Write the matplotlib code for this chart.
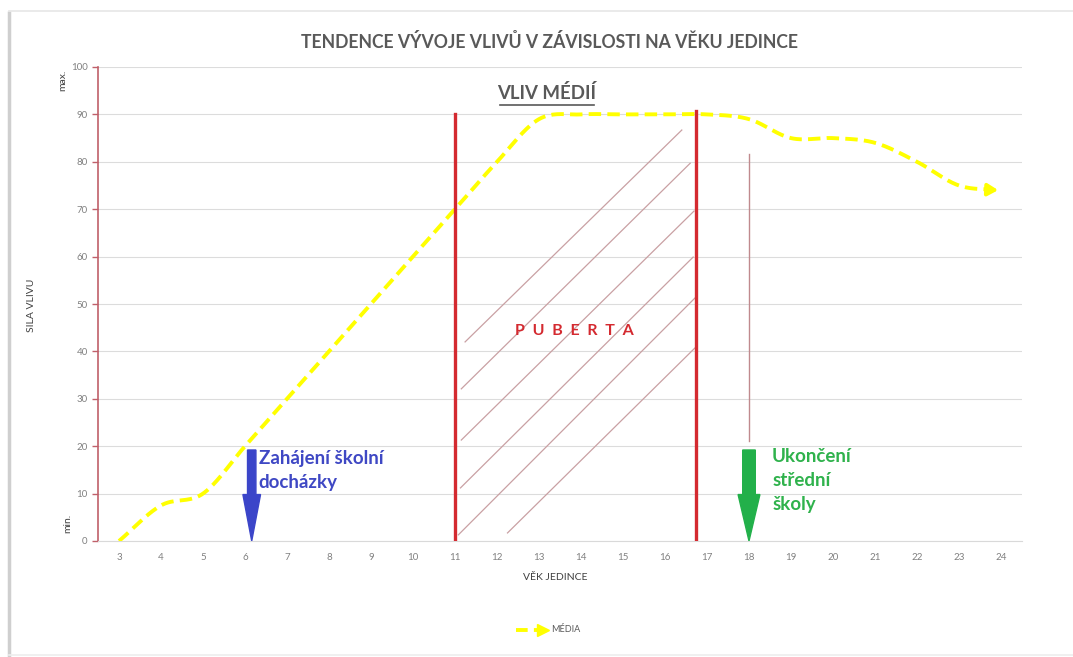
import numpy as np
import matplotlib
matplotlib.use("Agg")
import matplotlib.pyplot as plt
from matplotlib.lines import Line2D
from matplotlib.patches import FancyArrow

# ---------------- data ----------------
ages = [3, 4, 5, 6, 7, 8, 9, 10, 11, 12, 13, 14, 15, 16, 17, 18, 19, 20, 21, 22, 23, 24]
media = [0, 7.5, 10, 20, 30, 40, 50, 60, 70, 80, 89, 90, 90, 90, 90, 89, 85, 85, 84, 80, 75, 74]
series_name = "MÉDIA"
yticks = [0, 10, 20, 30, 40, 50, 60, 70, 80, 90, 100]

title = "TENDENCE VÝVOJE VLIVŮ V ZÁVISLOSTI NA VĚKU JEDINCE"
xlabel = "VĚK JEDINCE"
ylabel = "SILA VLIVU"

puberty_start = 11
puberty_end = 16.74
school_end = 18.0
school_start = 6.16

plt.rcParams['font.family'] = ['Lato', 'DejaVu Sans']

fig = plt.figure(figsize=(10.73, 6.57), dpi=100)
ax = fig.add_axes([98/1073, 1-541/657, (1022-98)/1073, (541-67)/657])

# frame/shadow of the chart container
fig.add_artist(Line2D([9/1073, 9/1073], [0, 1-11/657], transform=fig.transFigure,
                      color='#cfcfcf', lw=2.5, solid_capstyle='butt'))
fig.add_artist(Line2D([9/1073, 1], [1-11/657, 1-11/657], transform=fig.transFigure,
                      color='#e6e6e6', lw=1.2))
fig.add_artist(Line2D([9/1073, 1], [2/657, 2/657], transform=fig.transFigure,
                      color='#eeeeee', lw=1.2))


# Catmull-Rom smoothing (like Excel smoothed line)
def smooth(xs, ys, n=30):
    xs = np.asarray(xs, float); ys = np.asarray(ys, float)
    px = np.concatenate([[2*xs[0]-xs[1]], xs, [2*xs[-1]-xs[-2]]])
    py = np.concatenate([[2*ys[0]-ys[1]], ys, [2*ys[-1]-ys[-2]]])
    ox, oy = [], []
    for i in range(1, len(px)-2):
        t = np.linspace(0, 1, n, endpoint=False)
        for P, out in ((px, ox), (py, oy)):
            p0, p1, p2, p3 = P[i-1], P[i], P[i+1], P[i+2]
            out.extend(0.5*((2*p1) + (-p0+p2)*t + (2*p0-5*p1+4*p2-p3)*t**2 + (-p0+3*p1-3*p2+p3)*t**3))
    ox.append(xs[-1]); oy.append(ys[-1])
    return np.array(ox), np.array(oy)


ax.set_xlim(2.5, 24.5)
ax.set_ylim(0, 100)
ax.set_yticks(yticks)
ax.set_xticks(ages)
ax.yaxis.grid(True, color='#dcdcdc', lw=0.8)
ax.set_axisbelow(True)
for s in ['top', 'right']:
    ax.spines[s].set_visible(False)
ax.spines['left'].set_color('#c0606a')
ax.spines['left'].set_linewidth(1.2)
ax.spines['bottom'].set_color('#d9d9d9')
ax.tick_params(axis='y', colors='#c0606a', labelcolor='#808080', labelsize=7, length=4, width=1)
ax.tick_params(axis='x', length=0, labelcolor='#808080', labelsize=7, pad=9)

# puberty hatch lines
hatch = [((11.24, 42.0), (16.4, 86.7)), ((11.15, 32.1), (16.6, 79.7)),
         ((11.15, 21.3), (16.69, 69.6)), ((11.13, 11.2), (16.67, 59.9)),
         ((11.08, 1.3), (16.74, 51.5)), ((12.25, 1.7), (16.71, 40.7))]
for (x0, y0), (x1, y1) in hatch:
    ax.plot([x0, x1], [y0, y1], color='#c9a0a3', lw=0.9, zorder=2)

# smoothed line
sx, sy = smooth(ages, media)
ax.plot(sx[:-8], sy[:-8], color='#ffff00', lw=2.8, dashes=(3.2, 1.6), zorder=4)
ax.annotate('', xy=(ages[-1], media[-1]), xytext=(ages[-1]-0.3, media[-1]+0.1),
            arrowprops=dict(arrowstyle='-|>,head_width=0.35,head_length=0.6',
                            color='#ffff00', lw=2.8), zorder=5)

# red vertical lines
ax.plot([puberty_start, puberty_start], [0, 90], color='#d42a30', lw=2.4, zorder=5)
ax.plot([puberty_end, puberty_end], [0, 90.7], color='#d42a30', lw=2.4, zorder=5)
ax.plot([school_end, school_end], [21, 81.6], color='#c08a8e', lw=1.0, zorder=3)

# arrows
ax.add_patch(FancyArrow(school_start, 19.2, 0, -19.2, width=0.2, head_width=0.42,
                        head_length=9.8, length_includes_head=True,
                        color='#3b45c9', zorder=6))
ax.add_patch(FancyArrow(school_end, 19.2, 0, -19.2, width=0.3, head_width=0.52,
                        head_length=9.8, length_includes_head=True,
                        color='#22b04a', zorder=6))

ax.text(6.33, 14.9, "Zahájení školní\ndocházky", color='#3f48c4', fontsize=13.5,
        fontweight='bold', va='center', ha='left', linespacing=1.45)
ax.text(18.55, 12.7, "Ukončení\nstřední\nškoly", color='#2fb24c', fontsize=13.5,
        fontweight='bold', va='center', ha='left', linespacing=1.5)
ax.text(13.84, 44.3, "P  U  B  E  R  T  A", color='#d42a30', fontsize=11.5,
        fontweight='bold', ha='center', va='center')

# VLIV MÉDIÍ (underlined)
ax.text(13.19, 94.6, "VLIV MÉDIÍ", color='#595959', fontsize=13.4, fontweight='bold',
        ha='center', va='center')
ax.plot([12.06, 14.31], [91.9, 91.9], color='#595959', lw=1.2, clip_on=False)

fig.text(549/1073, 1-42/657, title, ha='center', va='center', fontsize=12.7,
         fontweight='bold', color='#595959')
fig.text(555/1073, 1-578/657, xlabel, ha='center', va='center', fontsize=7.5,
         color='#404040')
fig.text(32/1073, 1-305/657, ylabel, ha='center', va='center', fontsize=7.5,
         color='#404040', rotation=90)
fig.text(63/1073, 1-80/657, "max.", ha='center', va='center', fontsize=7.5,
         color='#404040', rotation=90)
fig.text(68/1073, 1-523/657, "min.", ha='center', va='center', fontsize=7.5,
         color='#404040', rotation=90)

# legend
fig.add_artist(Line2D([516/1073, 537/1073], [1-630/657, 1-630/657], transform=fig.transFigure,
                      color='#ffff00', lw=2.8, dashes=(3, 1.6)))
fig.add_artist(Line2D([543/1073], [1-630/657], transform=fig.transFigure, marker='>',
                      markersize=8, color='#ffff00', lw=0))
fig.text(551/1073, 1-630/657, series_name, ha='left', va='center', fontsize=6.5,
         color='#595959')

fig.savefig("out.png", dpi=100, facecolor='white')
